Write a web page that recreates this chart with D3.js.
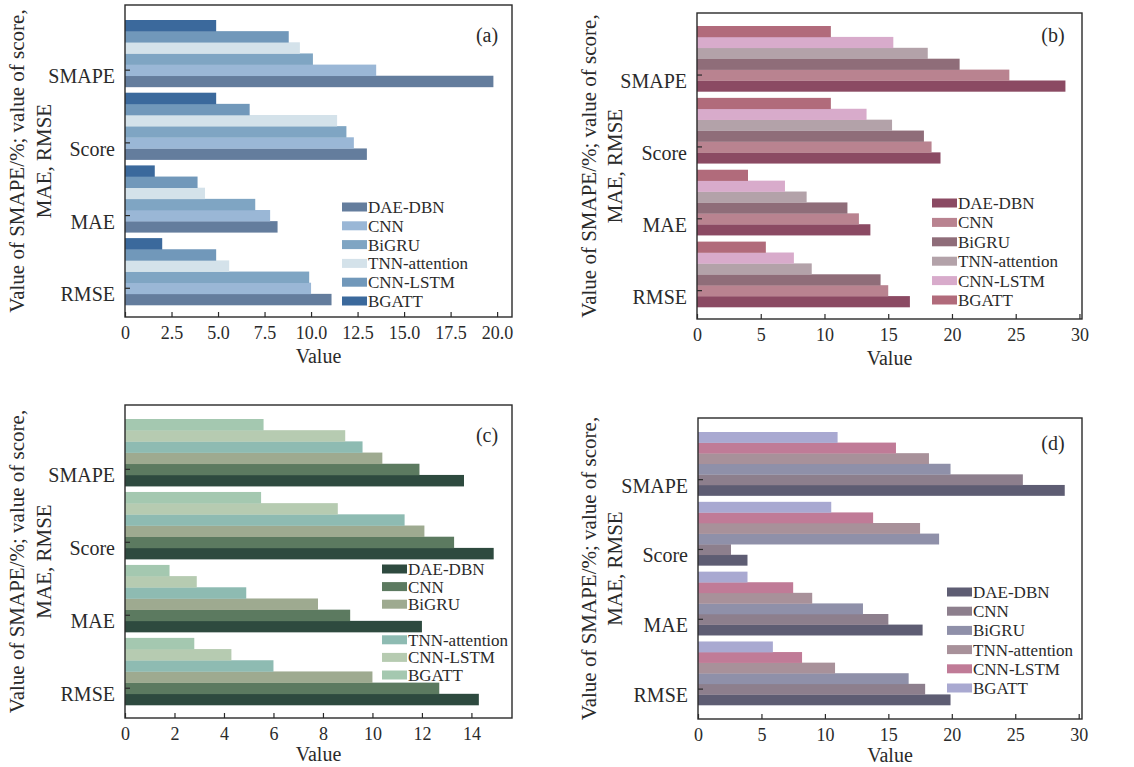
<!DOCTYPE html>
<html><head><meta charset="utf-8">
<script src="https://cdn.jsdelivr.net/npm/d3@7"></script>
<style>html,body{margin:0;padding:0;background:#fff;}svg{display:block;}</style>
</head><body>
<svg id="chart" width="1134" height="767"></svg>
<script>
// ---- data ----
const categories = ["SMAPE", "Score", "MAE", "RMSE"];
const seriesNames = ["DAE-DBN", "CNN", "BiGRU", "TNN-attention", "CNN-LSTM", "BGATT"];

// values per series, in category order [SMAPE, Score, MAE, RMSE]
const valuesA = [
  [19.8, 13.0, 8.2, 11.1],   // DAE-DBN
  [13.5, 12.3, 7.8, 10.0],   // CNN
  [10.1, 11.9, 7.0, 9.9],    // BiGRU
  [9.4, 11.4, 4.3, 5.6],     // TNN-attention
  [8.8, 6.7, 3.9, 4.9],      // CNN-LSTM
  [4.9, 4.9, 1.6, 2.0]       // BGATT
];
const valuesB = [
  [28.9, 19.1, 13.6, 16.7],
  [24.5, 18.4, 12.7, 15.0],
  [20.6, 17.8, 11.8, 14.4],
  [18.1, 15.3, 8.6, 9.0],
  [15.4, 13.3, 6.9, 7.6],
  [10.5, 10.5, 4.0, 5.4]
];
const valuesC = [
  [13.7, 14.9, 12.0, 14.3],
  [11.9, 13.3, 9.1, 12.7],
  [10.4, 12.1, 7.8, 10.0],
  [9.6, 11.3, 4.9, 6.0],
  [8.9, 8.6, 2.9, 4.3],
  [5.6, 5.5, 1.8, 2.8]
];
const valuesD = [
  [28.9, 3.9, 17.7, 19.9],
  [25.6, 2.6, 15.0, 17.9],
  [19.9, 19.0, 13.0, 16.6],
  [18.2, 17.5, 9.0, 10.8],
  [15.6, 13.8, 7.5, 8.2],
  [11.0, 10.5, 3.9, 5.9]
];

const ticksA = [0, 2.5, 5, 7.5, 10, 12.5, 15, 17.5, 20];
const ticksB = [0, 5, 10, 15, 20, 25, 30];
const ticksC = [0, 2, 4, 6, 8, 10, 12, 14];
const ticksD = [0, 5, 10, 15, 20, 25, 30];

const colorsA = ["#647d9d", "#9ab7d6", "#7fa5c3", "#d4e2ea", "#7198ba", "#3b699c"];
const colorsB = ["#8b4a63", "#b98390", "#8f6d79", "#b3a2a9", "#d8abcb", "#b16b7b"];
const colorsC = ["#2e4a3f", "#5c7a60", "#9eaa90", "#8ebbb2", "#b6cbb1", "#a4c8b0"];
const colorsD = ["#5e5d73", "#8d7f8d", "#8f90a9", "#a8919a", "#c07b97", "#a9a9d1"];

const yTitle1 = "Value of SMAPE/%; value of score,";
const yTitle2 = "MAE, RMSE";
const xTitle = "Value";

// ---- drawing ----
const svg = d3.select("#chart");
const FONT = "'Liberation Serif', 'Times New Roman', serif";
const INK = "#2a2a2a";

function drawPanel(cfg) {
  const g = svg.append("g");
  const x = d3.scaleLinear().domain([0, cfg.xMax]).range([cfg.left, cfg.right]);
  const y = d3.scaleBand().domain(categories).range([cfg.barTop, cfg.barBottom])
    .paddingInner(cfg.padInner).paddingOuter(0);
  // top to bottom inside a group: BGATT ... DAE-DBN
  const sub = d3.scaleBand().domain(seriesNames.slice().reverse()).range([0, y.bandwidth()]).padding(0);
  const color = d3.scaleOrdinal().domain(seriesNames).range(cfg.colors);

  const rows = [];
  seriesNames.forEach((s, i) => categories.forEach((c, j) => rows.push({s, c, v: cfg.values[i][j]})));

  g.selectAll("rect.bar").data(rows).join("rect")
    .attr("class", "bar")
    .attr("x", x(0))
    .attr("y", d => y(d.c) + sub(d.s))
    .attr("width", d => x(d.v) - x(0))
    .attr("height", sub.bandwidth() + 0.3)
    .attr("fill", d => color(d.s));

  // x axis
  const xAxis = d3.axisBottom(x).tickValues(cfg.ticks)
    .tickFormat(cfg.fmt).tickSizeInner(-5).tickSizeOuter(0).tickPadding(9);
  const gx = g.append("g").attr("transform", `translate(0,${cfg.bottom})`).call(xAxis);
  gx.select(".domain").remove();
  gx.selectAll("line").attr("stroke", INK).attr("stroke-width", 1.2);
  gx.selectAll("text").attr("font-family", FONT).attr("font-size", 18).attr("fill", INK);

  // y axis
  const yAxis = d3.axisLeft(y).tickSizeInner(-5).tickSizeOuter(0).tickPadding(10);
  const gy = g.append("g").attr("transform", `translate(${cfg.left},0)`).call(yAxis);
  gy.select(".domain").remove();
  gy.selectAll(".tick").attr("transform", d => `translate(0,${y(d) + sub("CNN") + sub.bandwidth() / 2})`);
  gy.selectAll("line").attr("stroke", INK).attr("stroke-width", 1.2);
  gy.selectAll("text").attr("font-family", FONT).attr("font-size", 20).attr("fill", INK)
    .attr("dy", "0.65em");

  // frame
  g.append("rect").attr("x", cfg.left).attr("y", cfg.top)
    .attr("width", cfg.right - cfg.left).attr("height", cfg.bottom - cfg.top)
    .attr("fill", "none").attr("stroke", INK).attr("stroke-width", 1.4);

  // panel label
  g.append("text").attr("x", cfg.labelX).attr("y", cfg.labelY)
    .attr("text-anchor", "middle").attr("font-family", FONT).attr("font-size", 20)
    .attr("fill", INK).text(cfg.label);

  // x title
  g.append("text").attr("x", (cfg.left + cfg.right) / 2).attr("y", cfg.bottom + cfg.xtOff)
    .attr("text-anchor", "middle").attr("font-family", FONT).attr("font-size", 20)
    .attr("fill", INK).text(xTitle);

  // y title
  const ty = (cfg.top + cfg.bottom) / 2;
  g.append("text").attr("transform", `translate(${cfg.yt1},${ty}) rotate(-90)`)
    .attr("text-anchor", "middle").attr("font-family", FONT).attr("font-size", 21)
    .attr("fill", INK).text(yTitle1);
  g.append("text").attr("transform", `translate(${cfg.yt2},${ty}) rotate(-90)`)
    .attr("text-anchor", "middle").attr("font-family", FONT).attr("font-size", 21)
    .attr("fill", INK).text(yTitle2);

  // legend
  const lg = g.append("g");
  seriesNames.forEach((s, i) => {
    const ly = cfg.legY + i * cfg.legStep + (cfg.legGapAfter != null && i > cfg.legGapAfter ? cfg.legGap : 0);
    lg.append("rect").attr("x", cfg.legX).attr("y", ly - 4.5).attr("width", 25).attr("height", 9)
      .attr("fill", color(s));
    lg.append("text").attr("x", cfg.legX + 26).attr("y", ly).attr("dy", "0.35em")
      .attr("font-family", FONT).attr("font-size", 17).attr("fill", INK).text(s);
  });
}

const fmtA = d => d === 0 ? "0" : d.toFixed(1);
const fmtInt = d => String(d);

drawPanel({values: valuesA, colors: colorsA, ticks: ticksA, fmt: fmtA, xMax: 20.8,
  left: 125, right: 512, top: 5, bottom: 317, barTop: 20, barBottom: 305, padInner: 0.08,
  label: "(a)", labelX: 487, labelY: 42, yt1: 24, yt2: 51, xtOff: 46,
  legX: 342, legY: 207, legStep: 18.8});

drawPanel({values: valuesB, colors: colorsB, ticks: ticksB, fmt: fmtInt, xMax: 30.2,
  left: 697, right: 1082, top: 13, bottom: 319, barTop: 26, barBottom: 307, padInner: 0.09,
  label: "(b)", labelX: 1053, labelY: 42, yt1: 596, yt2: 622, xtOff: 46,
  legX: 932, legY: 203, legStep: 19.4});

drawPanel({values: valuesC, colors: colorsC, ticks: ticksC, fmt: fmtInt, xMax: 15.64,
  left: 125, right: 512, top: 405, bottom: 718, barTop: 419, barBottom: 705, padInner: 0.08,
  label: "(c)", labelX: 487, labelY: 442, yt1: 24, yt2: 51, xtOff: 43,
  legX: 382, legY: 569, legStep: 17.6, legGapAfter: 2, legGap: 18});

drawPanel({values: valuesD, colors: colorsD, ticks: ticksD, fmt: fmtInt, xMax: 30.26,
  left: 698, right: 1082, top: 418, bottom: 719, barTop: 432, barBottom: 705, padInner: 0.09,
  label: "(d)", labelX: 1053, labelY: 450, yt1: 596, yt2: 622, xtOff: 43,
  legX: 947, legY: 592, legStep: 19.2});
</script>
</body></html>
